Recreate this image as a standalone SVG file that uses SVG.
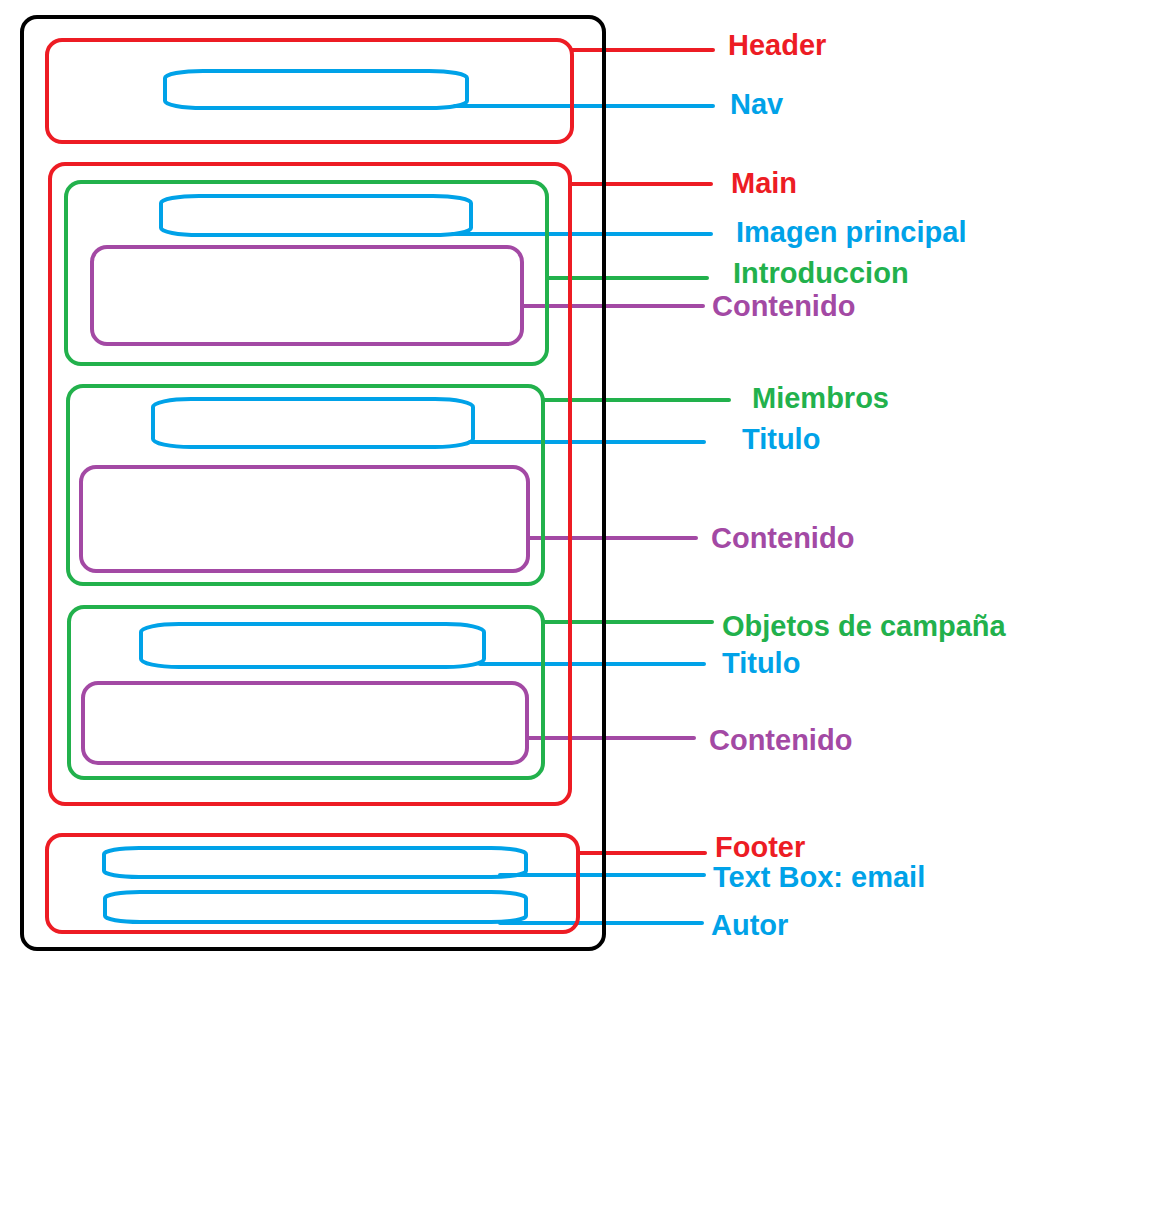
<svg xmlns="http://www.w3.org/2000/svg" width="1149" height="1206" viewBox="0 0 1149 1206">
<style>
.box{fill:none;stroke-width:4}
.red{stroke:#ED1C24}.blue{stroke:#00A2E8}.green{stroke:#22B14C}.purple{stroke:#A349A4}.black{stroke:#000}
.ln{stroke-width:4;stroke-linecap:round;fill:none}
text{font-family:"Liberation Sans",Arial,sans-serif;font-weight:bold;font-size:29px}
.tr{fill:#ED1C24}.tb{fill:#00A2E8}.tg{fill:#22B14C}.tp{fill:#A349A4}
</style>
<rect width="1149" height="1206" fill="#fff"/>
<g id="connectors">
<line class="ln red" x1="572" y1="50" x2="713" y2="50"/>
<line class="ln blue" x1="455" y1="106" x2="713" y2="106"/>
<line class="ln red" x1="570" y1="184" x2="711" y2="184"/>
<line class="ln blue" x1="453" y1="234" x2="711" y2="234"/>
<line class="ln green" x1="547" y1="278" x2="707" y2="278"/>
<line class="ln purple" x1="522" y1="306" x2="703" y2="306"/>
<line class="ln green" x1="543" y1="400" x2="729" y2="400"/>
<line class="ln blue" x1="470" y1="442" x2="704" y2="442"/>
<line class="ln purple" x1="528" y1="538" x2="696" y2="538"/>
<line class="ln green" x1="543" y1="622" x2="712" y2="622"/>
<line class="ln blue" x1="480" y1="664" x2="704" y2="664"/>
<line class="ln purple" x1="527" y1="738" x2="694" y2="738"/>
<line class="ln red" x1="578" y1="853" x2="705" y2="853"/>
<line class="ln blue" x1="500" y1="875" x2="704" y2="875"/>
<line class="ln blue" x1="500" y1="923" x2="702" y2="923"/>
</g>
<g id="page"><rect class="box black" x="22" y="17" width="582" height="932" rx="15"/></g>
<g id="header">
<rect class="box red" x="47" y="40" width="525" height="102" rx="15"/>
<text class="tr" x="728" y="55">Header</text>
</g>
<g id="nav">
<rect class="box blue" x="165" y="71" width="302" height="37" rx="38" ry="7"/>
<text class="tb" x="730" y="114">Nav</text>
</g>
<g id="main">
<rect class="box red" x="50" y="164" width="520" height="640" rx="15"/>
<text class="tr" x="731" y="193">Main</text>
</g>
<g id="introduccion">
<rect class="box green" x="66" y="182" width="481" height="182" rx="15"/>
<text class="tg" x="733" y="283">Introduccion</text>
</g>
<g id="imagen-principal">
<rect class="box blue" x="161" y="196" width="310" height="39" rx="38" ry="7"/>
<text class="tb" x="736" y="242">Imagen principal</text>
</g>
<g id="contenido-intro">
<rect class="box purple" x="92" y="247" width="430" height="97" rx="15"/>
<text class="tp" x="712" y="316">Contenido</text>
</g>
<g id="miembros">
<rect class="box green" x="68" y="386" width="475" height="198" rx="15"/>
<text class="tg" x="752" y="408">Miembros</text>
</g>
<g id="titulo-miembros">
<rect class="box blue" x="153" y="399" width="320" height="48" rx="38" ry="8"/>
<text class="tb" x="742" y="449">Titulo</text>
</g>
<g id="contenido-miembros">
<rect class="box purple" x="81" y="467" width="447" height="104" rx="15"/>
<text class="tp" x="711" y="548">Contenido</text>
</g>
<g id="objetos">
<rect class="box green" x="69" y="607" width="474" height="171" rx="15"/>
<text class="tg" x="722" y="636">Objetos de campaña</text>
</g>
<g id="titulo-objetos">
<rect class="box blue" x="141" y="624" width="343" height="43" rx="38" ry="8"/>
<text class="tb" x="722" y="673">Titulo</text>
</g>
<g id="contenido-objetos">
<rect class="box purple" x="83" y="683" width="444" height="80" rx="15"/>
<text class="tp" x="709" y="750">Contenido</text>
</g>
<g id="footer">
<rect class="box red" x="47" y="835" width="531" height="97" rx="15"/>
<text class="tr" x="715" y="857">Footer</text>
</g>
<g id="textbox-email">
<rect class="box blue" x="104" y="848" width="422" height="29" rx="35" ry="6"/>
<text class="tb" x="713" y="887">Text Box: email</text>
</g>
<g id="autor">
<rect class="box blue" x="105" y="892" width="421" height="30" rx="35" ry="6"/>
<text class="tb" x="711" y="935">Autor</text>
</g>
</svg>
